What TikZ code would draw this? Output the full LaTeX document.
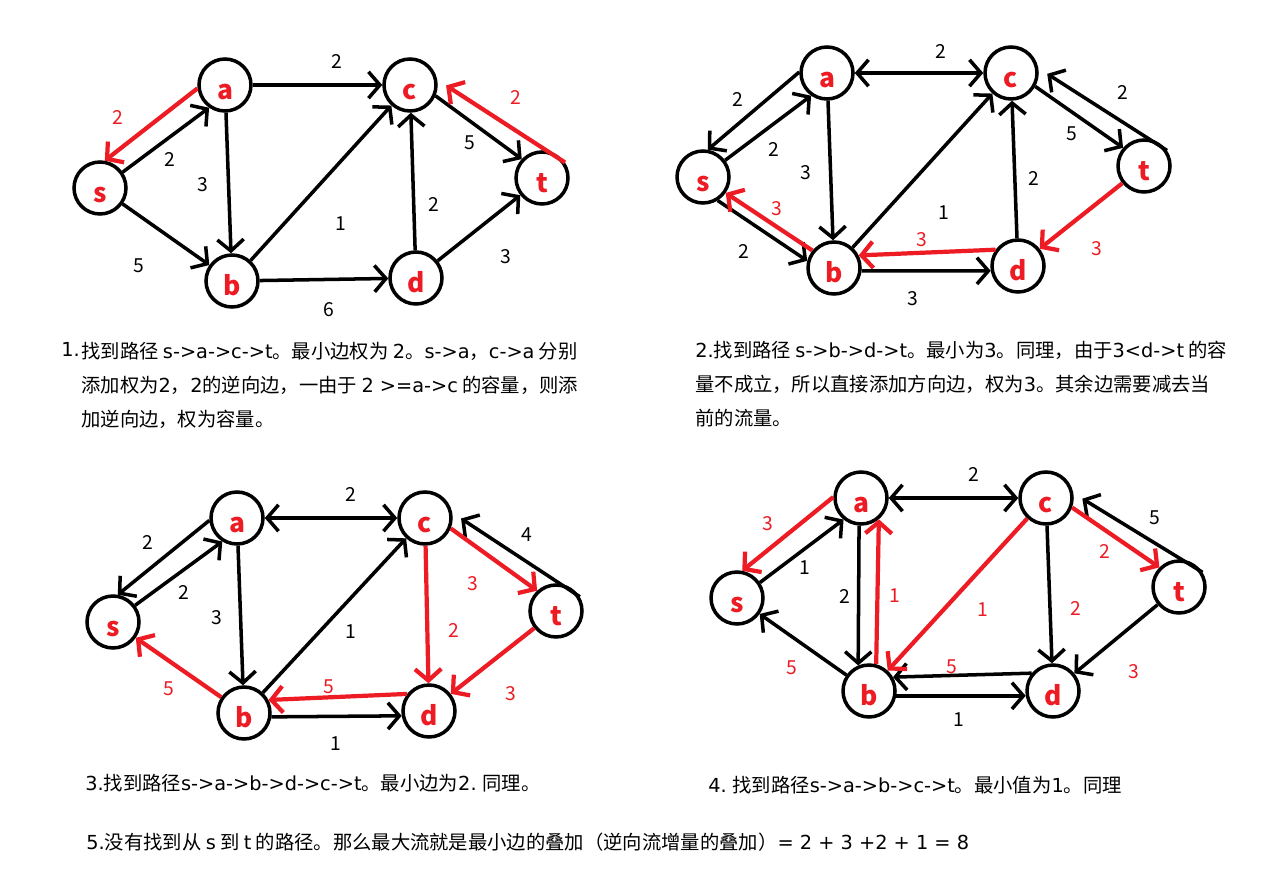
\documentclass[tikz,border=0pt]{standalone}
\usepackage{fontspec}
\setmainfont{Noto Sans CJK SC}
\newfontfamily\latn{DejaVu Sans}
\usetikzlibrary{arrows.meta}
\definecolor{pred}{HTML}{ED1C24}

\begin{document}
\begin{tikzpicture}[x=0.02cm, y=-0.02cm,
  >={Straight Barb[length=6.5pt,width=15pt]},
  vtx/.style={circle, draw, line width=2pt, minimum size=1.04cm, inner sep=0pt, text=pred,
    text height=17pt, text depth=0pt, font=\bfseries\fontsize{15}{15}\selectfont},
  edg/.style={line width=2pt, ->},
  aug/.style={draw=pred, line width=2.4pt, ->},
  wt/.style={font=\fontsize{11}{11}\selectfont, inner sep=0pt},
  rwt/.style={wt, text=pred},
  para/.style={anchor=north west, align=left, inner sep=0pt, font=\fontsize{11}{19.3}\selectfont},
]
\fill[white] (0,0) rectangle (1263,895);
\useasboundingbox (0,0) rectangle (1263,895);

% step 1
\node[vtx] (s1) at (100,188) {s};
\node[vtx] (a1) at (225,85) {a};
\node[vtx] (b1) at (232,281) {b};
\node[vtx] (c1) at (410,85) {c};
\node[vtx] (d1) at (416,278) {d};
\node[vtx] (t1) at (542,178) {t};

\draw[edg] (s1.35) -- (a1.235);
\draw[edg] (s1) -- (b1);
\draw[edg] (a1) -- (c1);
\draw[edg] (a1) -- (b1);
\draw[edg] (b1) -- (c1);
\draw[edg] (b1) -- (d1);
\draw[edg] (d1) -- (c1);
\draw[edg] (c1.-23) -- (t1.137);
\draw[edg] (d1) -- (t1);
\draw[aug] (a1.187) -- (s1.80);
\draw[aug, shorten >=6pt] (t1.34) -- (c1.11);

\node[wt] (w1ac) at (337,61) {2};
\node[rwt] (w1as) at (118,117) {2};
\node[wt] (w1sa) at (170,159) {2};
\node[wt] (w1ab) at (203,185) {3};
\node[wt] (w1sb) at (139,266) {5};
\node[wt] (w1bc) at (341,224) {1};
\node[wt] (w1bd) at (329,310) {6};
\node[wt] (w1dc) at (434,204) {2};
\node[wt] (w1ct) at (470,143) {5};
\node[wt] (w1dt) at (506,257) {3};
\node[rwt] (w1tc) at (516,97) {2};

% step 2
\node[vtx] (s2) at (703,177) {s};
\node[vtx] (a2) at (827,73) {a};
\node[vtx] (b2) at (834,268) {b};
\node[vtx] (c2) at (1011,73) {c};
\node[vtx] (d2) at (1018,266) {d};
\node[vtx] (t2) at (1144,166) {t};

\draw[edg] (a2.178) -- (s2.80);
\draw[edg] (s2.37) -- (a2.235);
\draw[edg, <->] (a2) -- (c2);
\draw[edg] (a2) -- (b2);
\draw[edg] (s2.-58) -- (b2.165);
\draw[edg] (b2) -- (c2);
\draw[edg] (b2.-6) -- (d2.190);
\draw[edg] (d2) -- (c2);
\draw[edg] (c2.-29) -- (t2.139);
\draw[edg, shorten >=6pt] (t2.34) -- (c2.10);
\draw[aug] (b2.141) -- (s2.-35);
\draw[aug] (d2.144) -- (b2.27);
\draw[aug] (t2) -- (d2);

\node[wt] (w2ca) at (941,51) {2};
\node[wt] (w2as) at (738,99) {2};
\node[wt] (w2sa) at (774,149) {2};
\node[wt] (w2ab) at (806,173) {3};
\node[rwt] (w2bs) at (777,209) {3};
\node[wt] (w2sb) at (744,251) {2};
\node[wt] (w2bc) at (944,213) {1};
\node[rwt] (w2db) at (922,240) {3};
\node[wt] (w2bd) at (913,299) {3};
\node[wt] (w2dc) at (1034,178) {2};
\node[wt] (w2ct) at (1072,134) {5};
\node[wt] (w2tc) at (1123,92) {2};
\node[rwt] (w2td) at (1097,249) {3};

% step 3
\node[vtx] (s3) at (113,622) {s};
\node[vtx] (a3) at (237,518) {a};
\node[vtx] (b3) at (244,713) {b};
\node[vtx] (c3) at (425,518) {c};
\node[vtx] (d3) at (429,711) {d};
\node[vtx] (t3) at (556,611) {t};

\draw[edg] (a3.185) -- (s3.80);
\draw[edg] (s3.37) -- (a3.238);
\draw[edg, <->] (a3) -- (c3);
\draw[edg] (a3) -- (b3);
\draw[edg] (b3) -- (c3);
\draw[edg] (b3.-8) -- (d3.190);
\draw[edg, shorten >=6pt] (t3.31) -- (c3.11);
\draw[aug] (b3) -- (s3);
\draw[aug] (d3.142) -- (b3.28);
\draw[aug] (c3) -- (d3);
\draw[aug] (c3.-22) -- (t3.133);
\draw[aug] (t3) -- (d3);

\node[wt] (w3ca) at (351,494) {2};
\node[wt] (w3as) at (148,542) {2};
\node[wt] (w3sa) at (184,592) {2};
\node[wt] (w3ab) at (217,618) {3};
\node[wt] (w3bc) at (351,632) {1};
\node[rwt] (w3bs) at (169,689) {5};
\node[rwt] (w3db) at (329,687) {5};
\node[wt] (w3bd) at (336,744) {1};
\node[rwt] (w3cd) at (454,630) {2};
\node[rwt] (w3ct) at (473,584) {3};
\node[wt] (w3tc) at (527,535) {4};
\node[rwt] (w3td) at (511,694) {3};

% step 4
\node[vtx] (s4) at (737,598) {s};
\node[vtx] (a4) at (861,498) {a};
\node[vtx] (b4) at (869,691) {b};
\node[vtx] (c4) at (1046,498) {c};
\node[vtx] (d4) at (1053,691) {d};
\node[vtx] (t4) at (1179,587) {t};

\draw[edg] (s4.34) -- (a4.231);
\draw[edg, <->] (a4) -- (c4);
\draw[edg] (a4.266) -- (b4.113);
\draw[edg] (b4) -- (s4);
\draw[edg] (c4) -- (d4);
\draw[edg, shorten >=6pt] (t4.32) -- (c4.10);
\draw[edg] (t4) -- (d4);
\draw[edg] (b4.-10) -- (d4.190);
\draw[edg] (d4.140) -- (b4.30);
\draw[aug] (a4.178) -- (s4.79);
\draw[aug] (b4.75) -- (a4.-50);
\draw[aug] (c4) -- (b4);
\draw[aug] (c4.-20) -- (t4.135);

\node[wt] (w4ca) at (974,474) {2};
\node[rwt] (w4as) at (768,524) {3};
\node[wt] (w4sa) at (805,568) {1};
\node[wt] (w4ab) at (845,596) {2};
\node[rwt] (w4ba) at (895,596) {1};
\node[rwt] (w4bs) at (792,668) {5};
\node[rwt] (w4cb) at (983,610) {1};
\node[rwt] (w4db) at (952,667) {5};
\node[wt] (w4bd) at (959,720) {1};
\node[rwt] (w4cd) at (1076,608) {2};
\node[rwt] (w4ct) at (1105,551) {2};
\node[wt] (w4tc) at (1155,518) {5};
\node[rwt] (w4td) at (1134,672) {3};

% notes
\node[para] (n1) at (61,342) {\latn 1.};
\node[para] (t1x) at (81,342) {找到路径 {\latn s->a->c->t}。最小边权为 {\latn 2}。{\latn s->a}，{\latn c->a} 分别\\
添加权为{\latn 2}，{\latn 2}的逆向边，一由于 {\latn 2 >=a->c} 的容量，则添\\
加逆向边，权为容量。};
\node[para] (t2x) at (695,341) {{\latn 2.}找到路径 {\latn s->b->d->t}。最小为{\latn 3}。同理，由于{\latn 3<d->t} 的容\\
量不成立，所以直接添加方向边，权为{\latn 3}。其余边需要减去当\\
前的流量。};
\node[para] (t3x) at (85,774) {{\latn 3.}找到路径{\latn s->a->b->d->c->t}。最小边为{\latn 2.} 同理。};
\node[para] (t4x) at (708,776) {{\latn 4.} 找到路径{\latn s->a->b->c->t}。最小值为{\latn 1}。同理};
\node[para] (t5x) at (86,833) {{\latn 5.}没有找到从 {\latn s} 到 {\latn t} 的路径。那么最大流就是最小边的叠加（逆向流增量的叠加）{\latn = 2 + 3 +2 + 1 = 8}};
\end{tikzpicture}
\end{document}
